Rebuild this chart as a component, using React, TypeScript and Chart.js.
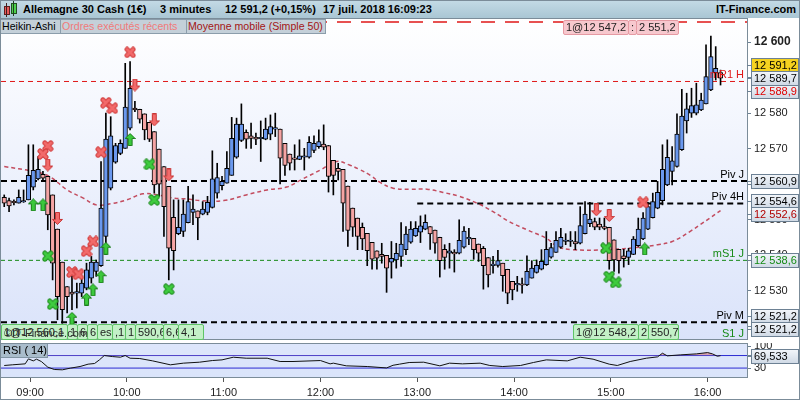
import { useEffect, useRef } from "react";
import { Chart, registerables } from "chart.js";

Chart.register(...registerables);

const FONT = '"Liberation Sans", Arial, Helvetica, sans-serif';
Chart.defaults.font.family = FONT;

// Heikin-Ashi, bougies de 3 minutes, première bougie à 08:44
const firstBar = "08:44";
const barStep = 3;

const haOpen = [
  12556.3, 12555.4, 12554.9, 12554.7, 12555.0, 12555.6, 12559.2, 12561.5, 12562.8, 12562.2,
  12557.0, 12547.4, 12538.1, 12531.2, 12529.7, 12529.4, 12529.4, 12530.8, 12533.6, 12535.5,
  12537.1, 12545.3, 12558.9, 12566.2, 12568.7, 12570.1, 12575.8, 12581.4, 12581.1, 12579.8,
  12577.4, 12574.8, 12569.9, 12565.0, 12559.4, 12550.7, 12546.1, 12546.7, 12549.2, 12552.1,
  12552.5, 12551.6, 12552.1, 12553.5, 12557.5, 12559.6, 12560.3, 12562.5, 12567.6, 12572.3,
  12574.6, 12573.6, 12573.2, 12572.8, 12572.7, 12574.1, 12575.5, 12575.5, 12571.5, 12568.5,
  12567.1, 12567.0, 12567.6, 12567.6, 12569.5, 12570.6, 12571.3, 12570.9, 12566.7, 12564.5,
  12564.2, 12559.5, 12553.3, 12550.5, 12547.9, 12546.2, 12543.7, 12541.3, 12540.3, 12540.0,
  12538.1, 12538.7, 12539.7, 12541.6, 12543.7, 12545.5, 12546.5, 12547.4, 12548.1, 12547.1,
  12545.1, 12541.7, 12540.6, 12540.9, 12540.6, 12542.3, 12544.6, 12544.8, 12543.2, 12542.0,
  12539.4, 12537.1, 12537.2, 12537.8, 12536.1, 12532.7, 12531.7, 12531.7, 12531.7, 12533.6,
  12535.2, 12536.1, 12537.4, 12539.5, 12540.8, 12542.3, 12543.9, 12543.9, 12543.9, 12543.4,
  12546.1, 12548.9, 12549.5, 12548.8, 12548.1, 12547.9, 12544.4, 12541.7, 12539.9, 12539.4,
  12540.3, 12542.7, 12544.6, 12547.4, 12550.6, 12553.3, 12555.4, 12559.8, 12563.6, 12565.0,
  12569.7, 12577.8, 12580.0, 12580.0, 12580.9, 12582.6, 12586.5, 12591.4, 12591.4,
];
const haHigh = [
  12557.0, 12556.1, 12555.6, 12558.4, 12558.4, 12571.1, 12571.1, 12567.8, 12563.6, 12562.2,
  12557.0, 12547.4, 12538.1, 12531.2, 12534.1, 12532.2, 12534.1, 12537.8, 12539.7, 12538.7,
  12566.4, 12580.0, 12579.0, 12571.5, 12572.5, 12594.0, 12594.5, 12583.3, 12581.1, 12579.8,
  12577.4, 12574.8, 12569.9, 12565.0, 12559.4, 12555.6, 12555.6, 12555.6, 12559.4, 12557.0,
  12552.5, 12555.1, 12556.6, 12569.4, 12565.9, 12562.2, 12569.2, 12578.8, 12578.6, 12582.6,
  12575.3, 12577.2, 12574.4, 12577.8, 12578.6, 12579.5, 12580.0, 12575.5, 12571.5, 12568.5,
  12571.1, 12572.5, 12570.1, 12573.4, 12573.6, 12575.3, 12576.7, 12570.9, 12566.7, 12565.9,
  12564.2, 12559.5, 12553.3, 12550.5, 12549.1, 12546.2, 12543.7, 12541.3, 12543.4, 12540.0,
  12543.9, 12543.4, 12549.2, 12548.1, 12549.5, 12549.5, 12551.1, 12551.4, 12548.1, 12547.1,
  12545.1, 12543.0, 12543.4, 12541.6, 12550.0, 12548.1, 12547.6, 12544.8, 12543.2, 12542.5,
  12539.4, 12539.7, 12541.4, 12537.8, 12536.1, 12532.7, 12534.1, 12533.6, 12539.9, 12538.5,
  12538.7, 12541.6, 12546.7, 12543.4, 12546.7, 12547.6, 12546.1, 12546.7, 12546.7, 12553.7,
  12555.1, 12554.9, 12550.5, 12550.5, 12550.5, 12547.9, 12544.4, 12541.7, 12541.7, 12542.0,
  12545.3, 12550.5, 12552.0, 12554.9, 12557.5, 12560.8, 12571.1, 12572.5, 12570.6, 12579.8,
  12586.7, 12585.6, 12587.0, 12588.4, 12585.6, 12599.2, 12601.7, 12598.7, 12592.1,
];
const haLow = [
  12553.7, 12552.3, 12554.2, 12554.7, 12554.9, 12555.6, 12558.4, 12561.2, 12561.2, 12547.2,
  12533.1, 12521.9, 12520.9, 12523.8, 12524.7, 12525.2, 12528.4, 12530.3, 12532.2, 12534.1,
  12536.9, 12543.4, 12558.4, 12565.9, 12568.3, 12570.1, 12575.3, 12580.4, 12577.2, 12572.5,
  12572.0, 12557.5, 12556.6, 12545.3, 12533.1, 12535.9, 12545.8, 12545.3, 12549.1, 12548.6,
  12544.4, 12551.4, 12551.4, 12553.3, 12556.1, 12558.4, 12560.3, 12562.5, 12567.3, 12572.0,
  12570.1, 12570.1, 12571.1, 12566.4, 12572.5, 12572.5, 12573.4, 12560.1, 12562.5, 12564.0,
  12564.0, 12566.9, 12564.0, 12567.3, 12568.9, 12570.1, 12569.7, 12557.8, 12557.0, 12561.2,
  12546.7, 12542.5, 12545.3, 12541.6, 12541.6, 12537.1, 12536.1, 12536.1, 12537.8, 12529.6,
  12533.6, 12536.4, 12536.9, 12540.2, 12543.4, 12545.3, 12543.6, 12547.2, 12541.7, 12540.6,
  12533.9, 12536.1, 12536.4, 12535.3, 12540.4, 12542.0, 12543.0, 12538.9, 12538.3, 12530.5,
  12531.1, 12535.0, 12536.7, 12529.9, 12526.4, 12527.5, 12529.9, 12529.4, 12531.5, 12533.6,
  12535.0, 12535.9, 12537.2, 12539.2, 12540.8, 12542.0, 12543.0, 12542.5, 12541.6, 12543.2,
  12546.0, 12548.1, 12547.2, 12547.2, 12547.2, 12536.1, 12535.5, 12535.0, 12536.7, 12537.4,
  12540.2, 12542.5, 12544.4, 12547.2, 12550.5, 12553.1, 12554.2, 12559.6, 12559.8, 12564.8,
  12569.5, 12574.4, 12578.8, 12579.5, 12580.7, 12582.6, 12586.3, 12589.3, 12587.9,
];
const haClose = [
  12554.7, 12553.9, 12554.8, 12556.3, 12555.1, 12562.5, 12563.9, 12564.2, 12561.7, 12551.4,
  12537.8, 12528.4, 12524.7, 12528.4, 12529.1, 12529.5, 12532.2, 12535.9, 12538.1, 12538.1,
  12553.3, 12572.7, 12573.6, 12570.9, 12571.5, 12581.7, 12587.0, 12580.9, 12578.3, 12575.3,
  12572.7, 12559.8, 12560.0, 12553.7, 12542.0, 12541.3, 12547.9, 12551.6, 12555.1, 12553.0,
  12550.5, 12553.0, 12554.9, 12561.5, 12561.9, 12560.8, 12564.5, 12572.9, 12576.9, 12576.9,
  12572.7, 12572.9, 12572.7, 12572.9, 12575.5, 12576.2, 12575.6, 12567.3, 12565.3, 12565.9,
  12567.0, 12568.0, 12567.7, 12571.8, 12571.5, 12572.0, 12570.4, 12562.2, 12562.5, 12563.6,
  12554.7, 12547.0, 12547.9, 12545.3, 12544.6, 12541.3, 12538.9, 12539.2, 12539.7, 12536.4,
  12539.2, 12540.6, 12543.2, 12546.0, 12547.4, 12547.6, 12548.3, 12549.3, 12546.0, 12543.4,
  12538.5, 12539.4, 12541.3, 12540.4, 12544.2, 12546.8, 12545.1, 12541.6, 12540.6, 12537.1,
  12534.5, 12537.5, 12538.5, 12534.3, 12529.4, 12530.3, 12531.8, 12531.6, 12535.5, 12536.4,
  12537.2, 12538.3, 12541.7, 12542.2, 12544.2, 12545.1, 12544.0, 12544.0, 12543.2, 12548.4,
  12551.6, 12550.2, 12547.9, 12547.9, 12547.6, 12538.5, 12538.7, 12538.5, 12539.1, 12541.3,
  12544.6, 12547.4, 12550.5, 12553.7, 12555.1, 12557.7, 12564.2, 12567.6, 12566.6, 12574.1,
  12579.2, 12581.2, 12582.1, 12582.3, 12583.7, 12590.3, 12595.9, 12592.6, 12589.8,
];

// Moyenne mobile simple 50
const maTimes = [
  "08:44", "09:02", "09:12", "09:23", "09:33", "09:41", "09:50", "10:00", "10:10", "10:19",
  "10:29", "10:39", "10:45", "11:00", "11:14", "11:27", "11:39", "11:49", "12:00", "12:10",
  "12:18", "12:24", "12:31", "12:37", "12:45", "12:55", "13:06", "13:16", "13:26", "13:37",
  "13:47", "13:57", "14:08", "14:20", "14:27", "14:36", "14:58", "15:18", "15:29", "15:38",
  "15:49", "16:08",
];
const maValues = [
  12565.0, 12563.6, 12562.2, 12558.4, 12556.1, 12554.2, 12554.5, 12555.6, 12557.3, 12557.0,
  12556.1, 12555.8, 12555.4, 12555.4, 12557.0, 12558.4, 12559.2, 12561.5, 12564.0, 12566.4,
  12565.4, 12564.2, 12562.5, 12560.5, 12558.9, 12558.6, 12558.6, 12557.7, 12556.6, 12554.7,
  12552.3, 12549.5, 12547.2, 12544.8, 12542.5, 12541.6, 12541.6, 12542.3, 12543.0, 12543.9,
  12546.7, 12552.6,
];

// RSI (14)
const rsiTimes = [
  "08:44", "08:49", "08:57", "08:59", "09:02", "09:04", "09:07", "09:11", "09:15", "09:20",
  "09:25", "09:31", "09:36", "09:40", "09:43", "09:46", "09:51", "09:56", "09:59", "10:02",
  "10:08", "10:16", "10:27", "10:35", "10:45", "10:53", "10:59", "11:06", "11:14", "11:27",
  "11:35", "11:43", "12:00", "12:06", "12:08", "12:16", "12:29", "12:41", "12:45", "12:49",
  "12:55", "13:04", "13:14", "13:20", "13:28", "13:39", "13:45", "13:53", "14:04", "14:12",
  "14:20", "14:33", "14:41", "14:49", "14:59", "15:04", "15:12", "15:22", "15:29", "15:32",
  "15:35", "15:43", "15:53", "16:00", "16:03", "16:06", "16:08",
];
const rsiValues = [
  38.3, 40.4, 43.5, 59.4, 53.0, 58.4, 51.0, 33.0, 25.6, 24.5,
  29.8, 35.0, 42.5, 44.6, 56.2, 70.0, 66.8, 64.7, 70.0, 61.5,
  60.5, 53.0, 40.4, 45.7, 48.8, 54.1, 56.2, 64.7, 61.5, 61.5,
  51.0, 51.0, 54.1, 43.5, 45.7, 37.2, 35.0, 30.5, 39.0, 42.5,
  47.8, 48.8, 37.2, 45.7, 43.5, 45.7, 38.3, 35.0, 38.3, 47.8,
  56.2, 53.0, 64.7, 58.4, 42.5, 38.3, 51.0, 61.5, 65.8, 77.4,
  69.0, 72.1, 75.3, 79.5, 75.3, 67.9, 69.5,
];
const rsiLast = 69.533;
const rsiBands = [70, 30];
const rsiTicks = [30, 70, 100];

// Ordres exécutés récents
const sellCrossTimes = ["10:02", "09:47", "09:51", "09:11", "09:08", "09:44", "09:39", "09:35", "09:26", "09:30", "15:20"];
const sellCrossPrices = [12597.1, 12582.9, 12581.4, 12570.8, 12568.5, 12569.0, 12543.9, 12541.2, 12535.3, 12534.7, 12554.9];
const sellArrowTimes = ["10:05", "09:11", "09:17", "10:17", "10:26", "14:51", "14:59"];
const sellArrowPrices = [12587.9, 12565.4, 12550.4, 12578.1, 12562.6, 12552.8, 12551.2];
const buyCrossTimes = ["10:14", "10:17", "09:11", "09:14", "10:26", "14:57", "14:59", "15:03"];
const buyCrossPrices = [12565.6, 12555.6, 12539.8, 12526.3, 12530.5, 12542.0, 12534.0, 12532.4];
const buyArrowTimes = ["09:02", "09:08", "10:02", "09:47", "09:44", "09:39", "09:35", "09:26", "15:21"];
const buyArrowPrices = [12554.2, 12554.2, 12572.6, 12542.0, 12534.0, 12530.3, 12527.7, 12522.3, 12541.8];

// Pivots et niveaux
const levelNames = ["R1 J", "mR1 H", "Piv J", "Piv 4H", "mS1 J", "Piv M", "S1 J"];
const levelValues = [12605.6, 12588.9, 12560.9, 12554.6, 12538.6, 12521.2, 12516.0];
const levelFrom = ["", "", "", "13:00", "", "", ""];

// étiquettes de l'axe des prix
const tagValues = [12591.2, 12588.9, 12589.7, 12560.9, 12554.6, 12552.6, 12538.6, 12521.2, 12521.2];
const tagKinds = ["high", "resist", "last", "level", "level", "ma", "support", "level", "level"];

const priceTicks = [12520, 12530, 12540, 12550, 12560, 12570, 12580, 12590, 12600];
const hourTicks = ["09:00", "10:00", "11:00", "12:00", "13:00", "14:00", "15:00", "16:00"];

const X_MIN = 522;
const X_MAX = 984.4;
const Y_MIN = 12516.2;
const Y_MAX = 12606.75;

const levelStyle: Record<string, { color: string; width: number; dash: number[]; label: boolean }> = {
  "R1 J": { color: "#e01818", width: 1.5, dash: [14, 10], label: false },
  "mR1 H": { color: "#e01818", width: 1, dash: [5, 4], label: true },
  "Piv J": { color: "#000000", width: 2, dash: [6, 4], label: true },
  "Piv 4H": { color: "#000000", width: 2, dash: [6, 4], label: true },
  "mS1 J": { color: "#178a17", width: 1, dash: [4, 3], label: true },
  "Piv M": { color: "#000000", width: 2, dash: [6, 4], label: true },
  "S1 J": { color: "#178a17", width: 1, dash: [4, 3], label: true },
};

const tagText: Record<string, string> = {
  high: "#000000", resist: "#e00000", last: "#000000", level: "#000000", ma: "#b00000", support: "#138a13",
};

const toMin = (s: string) => {
  const [h, m] = s.split(":");
  return Number(h) * 60 + Number(m);
};
const fmtTime = (v: number) => {
  const h = Math.floor(v / 60);
  const m = Math.round(v - h * 60);
  return `${String(h).padStart(2, "0")}:${String(m).padStart(2, "0")}`;
};
const fmtNum = (v: number, dec: number) => {
  const [i, d] = v.toFixed(dec).split(".");
  const int = i.replace(/\B(?=(\d{3})+(?!\d))/g, " ");
  return d ? `${int},${d}` : int;
};

// répartit les étiquettes qui se chevauchent autour de leur centre
function spread(ys: number[], gap: number) {
  const idx = ys.map((_, i) => i).sort((a, b) => ys[a] - ys[b]);
  const groups = idx.map((i) => ({ ids: [i], center: ys[i] }));
  let merged = true;
  while (merged) {
    merged = false;
    for (let k = 0; k < groups.length - 1; k++) {
      const a = groups[k];
      const b = groups[k + 1];
      const aEnd = a.center + ((a.ids.length - 1) * gap) / 2;
      const bStart = b.center - ((b.ids.length - 1) * gap) / 2;
      if (bStart - aEnd < gap) {
        const ids = [...a.ids, ...b.ids];
        const center = ids.reduce((s, i) => s + ys[i], 0) / ids.length;
        groups.splice(k, 2, { ids, center });
        merged = true;
        break;
      }
    }
  }
  const out: number[] = new Array(ys.length);
  groups.forEach((g) =>
    g.ids.forEach((id, j) => {
      out[id] = g.center + (j - (g.ids.length - 1) / 2) * gap;
    })
  );
  return out;
}

function drawTag(ctx: CanvasRenderingContext2D, x: number, y: number, text: string, bg: string | null, color: string) {
  const w = 47;
  const h = 14;
  const top = Math.round(y - h / 2) + 0.5;
  if (bg) {
    ctx.fillStyle = bg;
  } else {
    const g = ctx.createLinearGradient(0, top, 0, top + h);
    g.addColorStop(0, "#f3f6fa");
    g.addColorStop(1, "#cfd9e5");
    ctx.fillStyle = g;
  }
  ctx.fillRect(x + 0.5, top, w, h);
  ctx.strokeStyle = "#6d8194";
  ctx.lineWidth = 1;
  ctx.strokeRect(x + 0.5, top, w, h);
  ctx.fillStyle = color;
  ctx.font = `11px ${FONT}`;
  ctx.textAlign = "left";
  ctx.textBaseline = "middle";
  ctx.fillText(text, x + 3, top + h / 2 + 0.5);
}

function crossImage(fill: string, stroke: string) {
  const c = document.createElement("canvas");
  c.width = 12;
  c.height = 12;
  const g = c.getContext("2d")!;
  const draw = (w: number, col: string) => {
    g.strokeStyle = col;
    g.lineWidth = w;
    g.lineCap = "round";
    g.beginPath();
    g.moveTo(3, 3);
    g.lineTo(9, 9);
    g.moveTo(9, 3);
    g.lineTo(3, 9);
    g.stroke();
  };
  draw(5, stroke);
  draw(3, fill);
  return c;
}

function arrowImage(up: boolean, fill: string, stroke: string) {
  const c = document.createElement("canvas");
  c.width = 11;
  c.height = 13;
  const g = c.getContext("2d")!;
  const pts = [[5, 0], [10, 5], [7, 5], [7, 12], [3, 12], [3, 5], [0, 5]];
  g.beginPath();
  pts.forEach(([px, py], i) => {
    const yy = up ? py : 12 - py;
    if (i === 0) g.moveTo(px + 0.5, yy + 0.5);
    else g.lineTo(px + 0.5, yy + 0.5);
  });
  g.closePath();
  g.fillStyle = fill;
  g.fill();
  g.strokeStyle = stroke;
  g.lineWidth = 1;
  g.stroke();
  return c;
}

const plotBackground = {
  id: "plotBackground",
  beforeDraw(chart: Chart, _args: unknown, opts: { top: string; bottom: string }) {
    const { ctx, chartArea: a } = chart;
    const g = ctx.createLinearGradient(0, a.top, 0, a.bottom);
    g.addColorStop(0, opts.top);
    g.addColorStop(1, opts.bottom);
    ctx.save();
    ctx.fillStyle = g;
    ctx.fillRect(a.left, a.top, a.right - a.left, a.bottom - a.top);
    ctx.restore();
  },
  afterDatasetsDraw(chart: Chart) {
    const { ctx, chartArea: a } = chart;
    ctx.save();
    ctx.strokeStyle = "#7b8c99";
    ctx.lineWidth = 1;
    ctx.strokeRect(a.left - 0.5, a.top + 0.5, a.right - a.left + 1, a.bottom - a.top - 1);
    ctx.restore();
  },
};

const priceOverlay = {
  id: "priceOverlay",
  afterDraw(chart: Chart) {
    const { ctx, chartArea: a } = chart;
    const y = chart.scales.y;
    ctx.save();
    // noms des niveaux
    ctx.font = `11px ${FONT}`;
    ctx.textAlign = "right";
    ctx.textBaseline = "bottom";
    levelNames.forEach((name, i) => {
      const st = levelStyle[name];
      if (!st.label) return;
      ctx.fillStyle = st.color;
      ctx.fillText(name, a.right - 3, y.getPixelForValue(levelValues[i]) - 1);
    });
    // étiquettes de prix
    const ys = spread(tagValues.map((v) => y.getPixelForValue(v)), 13);
    tagValues.forEach((v, i) => {
      const kind = tagKinds[i];
      ctx.strokeStyle = "#6d8194";
      ctx.beginPath();
      ctx.moveTo(a.right, Math.round(ys[i]) + 0.5);
      ctx.lineTo(a.right + 4, Math.round(ys[i]) + 0.5);
      ctx.stroke();
      drawTag(ctx, a.right + 4, ys[i], fmtNum(v, 1), kind === "high" ? "#f5d21f" : null, tagText[kind]);
    });
    ctx.restore();
  },
};

const rsiOverlay = {
  id: "rsiOverlay",
  afterDraw(chart: Chart) {
    const { ctx, chartArea: a } = chart;
    const yy = chart.scales.y.getPixelForValue(rsiLast);
    ctx.save();
    ctx.strokeStyle = "#6d8194";
    ctx.beginPath();
    ctx.moveTo(a.right, Math.round(yy) + 0.5);
    ctx.lineTo(a.right + 4, Math.round(yy) + 0.5);
    ctx.stroke();
    drawTag(ctx, a.right + 4, yy, fmtNum(rsiLast, 3), null, "#000");
    ctx.restore();
  },
};

const barX = (i: number) => toMin(firstBar) + i * barStep;

const boxBase: React.CSSProperties = {
  position: "absolute",
  height: 15,
  lineHeight: "13px",
  fontSize: 11,
  paddingLeft: 2,
  boxSizing: "border-box",
  overflow: "hidden",
  whiteSpace: "nowrap",
  color: "#222",
};

const greenBoxesLeft: [number, number, string][] = [
  [1, 67, "1@12 560,1"], [67, 77, "1"], [77, 87, "6,"], [87, 97, "6"], [97, 112, "es"],
  [112, 125, ",1"], [125, 135, "1"], [135, 163, "590,6"], [163, 178, "6,6"], [178, 203, "4,1"],
];
const greenBoxesRight: [number, number, string][] = [
  [573, 638, "1@12 548,2"], [638, 648, "2"], [648, 678, "550,7"],
];
const pinkBoxes: [number, number, string][] = [
  [563, 628, "1@12 547,2"], [628, 636, ":"], [636, 678, "2 551,2"],
];

export default function App() {
  const mainRef = useRef<HTMLCanvasElement>(null);
  const rsiRef = useRef<HTMLCanvasElement>(null);

  useEffect(() => {
    if (!mainRef.current || !rsiRef.current) return;

    const redCross = crossImage("#f26a6a", "#d23c3c");
    const greenCross = crossImage("#3fcc3f", "#1f8e1f");
    const greenArrow = arrowImage(true, "#3cc83c", "#1b7d1b");
    const redArrow = arrowImage(false, "#f26a6a", "#c83434");

    const markers = (times: string[], prices: number[], img: HTMLCanvasElement) => ({
      type: "line" as const,
      data: times.map((t, i) => ({ x: toMin(t), y: prices[i] })),
      showLine: false,
      pointStyle: img,
      pointRadius: 6,
      order: 1,
    });

    const levelSets = levelNames.map((name, i) => {
      const st = levelStyle[name];
      return {
        type: "line" as const,
        data: [
          { x: levelFrom[i] ? toMin(levelFrom[i]) : X_MIN, y: levelValues[i] },
          { x: X_MAX, y: levelValues[i] },
        ],
        borderColor: st.color,
        borderWidth: st.width,
        borderDash: st.dash,
        pointRadius: 0,
        order: 10,
      };
    });

    const main = new Chart(mainRef.current, {
      type: "bar",
      data: {
        datasets: [
          ...levelSets,
          {
            type: "line",
            data: maTimes.map((t, i) => ({ x: toMin(t), y: maValues[i] })),
            borderColor: "rgba(185, 35, 55, 0.8)",
            borderWidth: 1.5,
            borderDash: [4, 3],
            pointRadius: 0,
            tension: 0.4,
            order: 9,
          },
          {
            type: "bar",
            data: haHigh.map((h, i) => ({ x: barX(i), y: [haLow[i], h] })),
            backgroundColor: "#000",
            barThickness: 1,
            grouped: false,
            order: 8,
          },
          {
            type: "bar",
            data: haOpen.map((o, i) => ({ x: barX(i), y: [o, haClose[i]] })),
            backgroundColor: haOpen.map((o, i) => (haClose[i] >= o ? "#6a98ee" : "#f5a4a4")),
            borderColor: "#000",
            borderWidth: 1,
            borderSkipped: false,
            barThickness: 4.5,
            minBarLength: 1.5,
            grouped: false,
            order: 7,
          },
          markers(sellCrossTimes, sellCrossPrices, redCross),
          markers(sellArrowTimes, sellArrowPrices, redArrow),
          markers(buyCrossTimes, buyCrossPrices, greenCross),
          markers(buyArrowTimes, buyArrowPrices, greenArrow),
        ] as any,
      },
      options: {
        animation: false,
        responsive: true,
        maintainAspectRatio: false,
        events: [],
        layout: { autoPadding: false, padding: { left: 1, top: 0, right: 0, bottom: 3 } },
        plugins: {
          legend: { display: false },
          tooltip: { enabled: false },
          plotBackground: { top: "#ffffff", bottom: "#dae3fa" },
        } as any,
        scales: {
          x: {
            type: "linear",
            min: X_MIN,
            max: X_MAX,
            offset: false,
            display: false,
            grid: { offset: false },
          },
          y: {
            type: "linear",
            position: "right",
            min: Y_MIN,
            max: Y_MAX,
            beginAtZero: false,
            afterBuildTicks: (s: any) => {
              s.ticks = priceTicks.map((v) => ({ value: v }));
            },
            afterFit: (s: any) => {
              s.width = 53;
              s.paddingTop = 0;
              s.paddingBottom = 0;
            },
            grid: { drawOnChartArea: false, tickLength: 4, color: "#6d8194" },
            border: { display: false },
            ticks: {
              padding: 3,
              color: "#222",
              font: (c: any) =>
                c.tick && c.tick.value === 12600
                  ? { family: FONT, size: 12, weight: "bold" }
                  : { family: FONT, size: 11, weight: "normal" },
              callback: (v: any) => fmtNum(Number(v), 0),
            },
          },
        } as any,
      },
      plugins: [plotBackground, priceOverlay],
    });

    const rsi = new Chart(rsiRef.current, {
      type: "line",
      data: {
        datasets: [
          ...rsiBands.map((b) => ({
            data: [{ x: X_MIN, y: b }, { x: X_MAX, y: b }],
            borderColor: "#2b2bd2",
            borderWidth: 1,
            pointRadius: 0,
            order: 5,
          })),
          {
            data: rsiTimes.map((t, i) => ({ x: toMin(t), y: rsiValues[i] })),
            borderColor: "#111",
            borderWidth: 1,
            pointRadius: 0,
            fill: { target: { value: 70 }, above: "rgba(214, 150, 165, 0.85)", below: "rgba(0,0,0,0)" },
            order: 1,
          },
        ] as any,
      },
      options: {
        animation: false,
        responsive: true,
        maintainAspectRatio: false,
        events: [],
        layout: { autoPadding: false, padding: { left: 1, top: 0, right: 0, bottom: 0 } },
        plugins: {
          legend: { display: false },
          tooltip: { enabled: false },
          plotBackground: { top: "#dde6fb", bottom: "#dae4fa" },
        } as any,
        scales: {
          x: {
            type: "linear",
            min: X_MIN,
            max: X_MAX,
            afterBuildTicks: (s: any) => {
              s.ticks = hourTicks.map((t) => ({ value: toMin(t) }));
            },
            afterFit: (s: any) => {
              s.height = 22;
              s.paddingLeft = 0;
              s.paddingRight = 0;
            },
            grid: { drawOnChartArea: false, tickLength: 4, color: "#555" },
            border: { display: false },
            ticks: {
              padding: 4,
              color: "#222",
              maxRotation: 0,
              autoSkip: false,
              font: { family: FONT, size: 11 },
              callback: (v: any) => fmtTime(Number(v)),
            },
          },
          y: {
            type: "linear",
            position: "right",
            min: -1.6,
            max: 110,
            afterBuildTicks: (s: any) => {
              s.ticks = rsiTicks.map((v) => ({ value: v }));
            },
            afterFit: (s: any) => {
              s.width = 53;
              s.paddingTop = 0;
              s.paddingBottom = 0;
            },
            grid: { drawOnChartArea: false, tickLength: 4, color: "#6d8194" },
            border: { display: false },
            ticks: { padding: 3, color: "#222", font: { family: FONT, size: 11 } },
          },
        } as any,
      },
      plugins: [plotBackground, rsiOverlay],
    });

    return () => {
      main.destroy();
      rsi.destroy();
    };
  }, []);

  return (
    <div
      style={{
        position: "fixed",
        left: 0,
        top: 0,
        width: 800,
        height: 400,
        background: "#fff",
        fontFamily: FONT,
        fontSize: 11,
        overflow: "hidden",
      }}
    >
      <div style={{ position: "absolute", left: 0, top: 18, width: 800, height: 325 }}>
        <canvas ref={mainRef} />
      </div>
      <div style={{ position: "absolute", left: 0, top: 343, width: 800, height: 57 }}>
        <canvas ref={rsiRef} />
      </div>

      {/* barre de titre */}
      <div
        style={{
          position: "absolute",
          left: 0,
          top: 0,
          width: 800,
          height: 18,
          background: "linear-gradient(#c4dbe6, #a9c6d4)",
          fontWeight: "bold",
          fontSize: 11,
          lineHeight: "18px",
          color: "#000",
        }}
      >
        <div style={{ position: "absolute", left: 4, top: 6, width: 4, height: 7, background: "#e85a5a", border: "1px solid #602020" }} />
        <div style={{ position: "absolute", left: 6, top: 3, width: 1, height: 14, background: "#402020" }} />
        <div style={{ position: "absolute", left: 11, top: 3, width: 4, height: 9, background: "#4cd04c", border: "1px solid #205020" }} />
        <div style={{ position: "absolute", left: 13, top: 1, width: 1, height: 15, background: "#204020" }} />
        <span style={{ position: "absolute", left: 23 }}>Allemagne 30 Cash (1€)</span>
        <span style={{ position: "absolute", left: 160 }}>3 minutes</span>
        <span style={{ position: "absolute", left: 225 }}>12 591,2 (+0,15%)</span>
        <span style={{ position: "absolute", left: 323 }}>17 juil. 2018 16:09:23</span>
        <span style={{ position: "absolute", right: 4 }}>IT-Finance.com</span>
      </div>

      {/* indicateurs affichés */}
      {[
        { l: 0, w: 61, t: "Heikin-Ashi", c: "#000" },
        { l: 60, w: 127, t: "Ordres exécutés récents", c: "#f07a7a" },
        { l: 186, w: 140, t: "Moyenne mobile (Simple 50)", c: "#a31515" },
      ].map((b) => (
        <div
          key={b.t}
          style={{
            ...boxBase,
            left: b.l,
            top: 19,
            width: b.w,
            paddingLeft: 1,
            fontSize: 10.6,
            background: "#c4d0d9",
            border: "1px solid #8b9dab",
            color: b.c,
          }}
        >
          {b.t}
        </div>
      ))}

      {pinkBoxes.map(([l, r, t]) => (
        <div
          key={`p${l}`}
          style={{ ...boxBase, left: l, top: 20, width: r - l + 1, background: "#f7c8ce", border: "1px solid #e59aa3", borderRadius: 2 }}
        >
          {t}
        </div>
      ))}
      {[...greenBoxesLeft, ...greenBoxesRight].map(([l, r, t]) => (
        <div
          key={`g${l}`}
          style={{ ...boxBase, left: l, top: 324, width: r - l + 1, height: 16, lineHeight: "14px", background: "#c3f0c7", border: "1px solid #5fc466", borderRadius: 2 }}
        >
          {t}
        </div>
      ))}
      <div style={{ position: "absolute", left: 4, top: 327, fontSize: 11, color: "#333" }}>©IT-Finance.com</div>

      <div
        style={{
          ...boxBase,
          left: 1,
          top: 344,
          width: 47,
          height: 14,
          lineHeight: "13px",
          background: "#a9bccb",
          borderRight: "1px solid #8195a4",
          borderBottom: "1px solid #8195a4",
          color: "#000",
        }}
      >
        RSI ( 14)
      </div>

      <div
        style={{
          position: "absolute",
          inset: 0,
          border: "1px solid #7b8c99",
          pointerEvents: "none",
        }}
      />
    </div>
  );
}
